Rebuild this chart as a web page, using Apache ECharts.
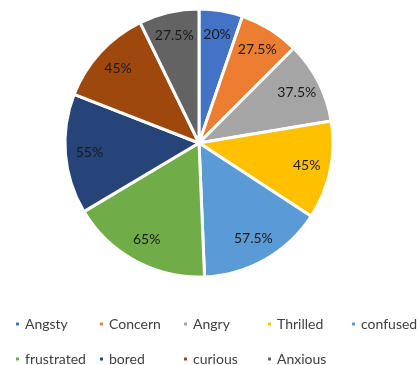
<!DOCTYPE html>
<html><head><meta charset="utf-8">
<script src="https://cdn.jsdelivr.net/npm/echarts@6/dist/echarts.min.js"></script>
<style>html,body{margin:0;padding:0;background:#fff}#c{width:418px;height:365px}</style>
</head><body><div id="c"></div>
<script>
const categories = ['Angsty','Concern','Angry','Thrilled','confused','frustrated','bored','curious','Anxious'];
const values = [20, 27.5, 37.5, 45, 57.5, 65, 55, 45, 27.5];
const colors = ['#4472C4','#ED7D31','#A5A5A5','#FFC000','#5B9BD5','#70AD47','#264478','#9E480E','#636363'];
const legendRow1 = categories.slice(0,5);
const legendRow2 = categories.slice(5);

const data = categories.map((n,i)=>({name:n,value:values[i],itemStyle:{color:colors[i]}}));
const labelData = categories.map((n,i)=>({name:n,value:values[i]}));
const FONT = 'Lato';
const legendBase = {
  orient:'horizontal', left:14, width:430, padding:0, itemWidth:5, itemHeight:5, icon:'rect', itemGap:3,
  textStyle:{fontFamily:FONT, fontSize:14, color:'#404040', width:70, lineHeight:16},
  selectedMode:false
};
const chart = echarts.init(document.getElementById('c'));
chart.setOption({
  animation:false,
  color: colors,
  legend:[
    Object.assign({}, legendBase, {top:316, data:legendRow1}),
    Object.assign({}, legendBase, {top:351, data:legendRow2})
  ],
  series:[
    {type:'pie', center:[199,143], radius:[0,134], startAngle:90, clockwise:true,
     data:data, label:{show:false}, labelLine:{show:false},
     itemStyle:{borderColor:'#fff', borderWidth:3}, emphasis:{disabled:true}},
    {type:'pie', center:[199,143], radius:[80,134], startAngle:90, clockwise:true,
     data:labelData, silent:true, legendHoverLink:false,
     itemStyle:{color:'rgba(0,0,0,0)', borderWidth:0},
     label:{show:true, position:'inside', formatter:p=>p.value+'%', fontFamily:FONT, fontSize:14, color:'#1a1a1a'},
     labelLine:{show:false}, emphasis:{disabled:true}}
  ]
});
</script></body></html>
